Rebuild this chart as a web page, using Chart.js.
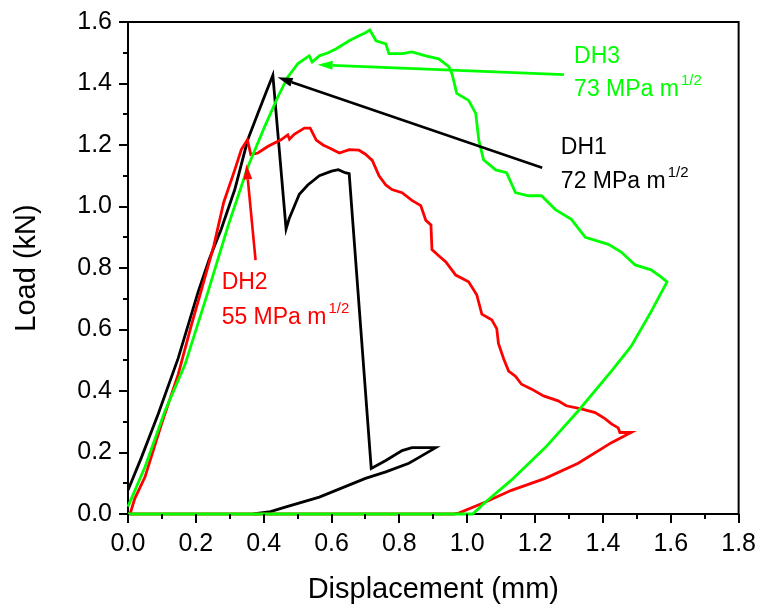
<!DOCTYPE html>
<html>
<head>
<meta charset="utf-8">
<script src="https://cdn.jsdelivr.net/npm/chart.js@4/dist/chart.umd.min.js"></script>
<style>
  html, body { margin: 0; padding: 0; background: #fff; }
  #wrap { width: 762px; height: 613px; }
</style>
</head>
<body>
<div id="wrap"><canvas id="cv" width="762" height="613"></canvas></div>
<script>
// displacement (mm), load (kN)
const DH1 = [[0,0.077],[0.04,0.185],[0.089,0.325],[0.148,0.507],[0.207,0.723],[0.24,0.83],[0.275,0.927],
  [0.315,1.056],[0.353,1.217],[0.383,1.303],[0.41,1.38],[0.427,1.427],
  [0.466,0.927],[0.475,0.96],[0.49,1.0],[0.505,1.04],[0.53,1.07],[0.564,1.10],[0.6,1.115],[0.62,1.12],
  [0.64,1.11],[0.652,1.107],[0.717,0.148],[0.76,0.174],[0.808,0.206],[0.837,0.216],[0.907,0.216],
  [0.858,0.184],[0.828,0.165],[0.76,0.137],[0.70,0.116],[0.564,0.055],[0.466,0.023],[0.42,0.008],[0.37,0]];

const DH2 = [[0,0],[0.006,0.0],[0.02,0.05],[0.05,0.12],[0.099,0.293],[0.148,0.454],[0.187,0.615],[0.215,0.723],
  [0.253,0.873],[0.282,1.013],[0.315,1.12],[0.334,1.185],[0.352,1.217],[0.362,1.169],[0.383,1.174],
  [0.413,1.196],[0.451,1.217],[0.471,1.233],[0.476,1.219],[0.49,1.235],[0.52,1.255],[0.537,1.255],
  [0.555,1.216],[0.575,1.20],[0.594,1.19],[0.623,1.174],[0.652,1.185],[0.681,1.183],[0.70,1.17],
  [0.72,1.15],[0.74,1.10],[0.76,1.07],[0.778,1.055],[0.808,1.045],[0.837,1.02],[0.863,1.003],
  [0.878,0.955],[0.893,0.94],[0.896,0.86],[0.916,0.84],[0.937,0.82],[0.966,0.777],[1.004,0.755],
  [1.028,0.713],[1.043,0.65],[1.072,0.632],[1.087,0.603],[1.092,0.555],[1.107,0.506],[1.122,0.465],
  [1.142,0.448],[1.16,0.422],[1.19,0.406],[1.225,0.384],[1.268,0.368],[1.292,0.352],[1.336,0.342],
  [1.377,0.33],[1.406,0.31],[1.425,0.293],[1.445,0.28],[1.45,0.265],[1.483,0.265],[1.425,0.232],
  [1.327,0.165],[1.23,0.116],[1.13,0.077],[1.054,0.039],[0.975,0.003],[0.96,0],[0,0]];

const DH3 = [[0,0.024],[0.05,0.153],[0.109,0.335],[0.168,0.486],[0.236,0.723],[0.295,0.937],[0.354,1.131],
  [0.403,1.26],[0.442,1.357],[0.471,1.421],[0.501,1.465],[0.534,1.49],[0.543,1.47],[0.564,1.49],
  [0.59,1.50],[0.614,1.513],[0.652,1.539],[0.681,1.555],[0.70,1.565],[0.713,1.574],[0.731,1.539],
  [0.76,1.529],[0.769,1.497],[0.808,1.497],[0.837,1.503],[0.878,1.49],[0.916,1.48],[0.946,1.455],
  [0.955,1.432],[0.969,1.368],[1.004,1.345],[1.025,1.303],[1.034,1.216],[1.048,1.152],[1.084,1.119],
  [1.116,1.11],[1.142,1.045],[1.18,1.035],[1.219,1.035],[1.26,0.99],[1.307,0.958],[1.348,0.90],
  [1.416,0.877],[1.454,0.852],[1.495,0.81],[1.542,0.794],[1.571,0.771],[1.589,0.755],[1.542,0.658],
  [1.483,0.545],[1.425,0.465],[1.327,0.335],[1.23,0.216],[1.13,0.11],[1.054,0.039],[1.016,0],[0,0]];

const X_RANGE = [0, 1.8];
const Y_RANGE = [0, 1.6];

// label text, toughness, colour, text anchor (x, baseline y line 1, line 2), arrow from -> to
const NOTES = [
  {name: 'DH3', k: '73 MPa m', color: '#00ff00', at: [1.315, 1.468, 1.358], from: [1.285, 1.429], to: [0.559, 1.461]},
  {name: 'DH1', k: '72 MPa m', color: '#000000', at: [1.276, 1.171, 1.061], from: [1.221, 1.126], to: [0.441, 1.42]},
  {name: 'DH2', k: '55 MPa m', color: '#ff0000', at: [0.276, 0.732, 0.619], from: [0.376, 0.826], to: [0.349, 1.137]},
];

const FONT = 'Liberation Sans, Arial, sans-serif';
const pts = a => a.map(p => ({x: p[0], y: p[1]}));
const isMajor = v => Math.round(v * 10) % 2 === 0;

const ticksAndFrame = {
  id: 'ticksAndFrame',
  afterDraw(chart) {
    const {ctx, chartArea: a, scales: {x, y}} = chart;
    ctx.save();
    ctx.strokeStyle = '#000'; ctx.lineWidth = 2;
    ctx.beginPath();
    x.ticks.forEach(t => {
      const px = Math.round(x.getPixelForValue(t.value));
      ctx.moveTo(px, a.bottom); ctx.lineTo(px, a.bottom + (isMajor(t.value) ? 9 : 5));
    });
    y.ticks.forEach(t => {
      const py = Math.round(y.getPixelForValue(t.value));
      ctx.moveTo(a.left, py); ctx.lineTo(a.left - (isMajor(t.value) ? 9 : 5), py);
    });
    ctx.moveTo(a.left, a.top); ctx.lineTo(a.right, a.top); ctx.lineTo(a.right, a.bottom);
    ctx.stroke();
    ctx.restore();
  }
};

const notes = {
  id: 'notes',
  afterDatasetsDraw(chart) {
    const {ctx, scales: {x, y}} = chart;
    ctx.save();
    NOTES.forEach(n => {
      ctx.fillStyle = n.color; ctx.strokeStyle = n.color; ctx.lineWidth = 2.6;
      const x0 = x.getPixelForValue(n.from[0]), y0 = y.getPixelForValue(n.from[1]);
      const x1 = x.getPixelForValue(n.to[0]), y1 = y.getPixelForValue(n.to[1]);
      const ang = Math.atan2(y1 - y0, x1 - x0), L = 15, W = 4.5;
      const bx = x1 - L * Math.cos(ang), by = y1 - L * Math.sin(ang);
      ctx.beginPath(); ctx.moveTo(x0, y0); ctx.lineTo(bx, by); ctx.stroke();
      ctx.beginPath();
      ctx.moveTo(x1, y1);
      ctx.lineTo(bx + W * Math.sin(ang), by - W * Math.cos(ang));
      ctx.lineTo(bx - W * Math.sin(ang), by + W * Math.cos(ang));
      ctx.closePath(); ctx.fill();

      const tx = x.getPixelForValue(n.at[0]);
      ctx.textAlign = 'left'; ctx.textBaseline = 'alphabetic';
      ctx.font = '23px ' + FONT;
      ctx.fillText(n.name, tx, y.getPixelForValue(n.at[1]));
      const by2 = y.getPixelForValue(n.at[2]);
      ctx.fillText(n.k, tx, by2);
      const w = ctx.measureText(n.k).width;
      ctx.font = '15px ' + FONT;
      ctx.fillText('1/2', tx + w + 2, by2 - 11);
    });
    ctx.restore();
  }
};

const line = (data, color) => ({
  data: pts(data), borderColor: color, backgroundColor: color, borderWidth: 2.8,
  showLine: true, pointRadius: 0, tension: 0, fill: false, clip: 4
});

new Chart(document.getElementById('cv'), {
  type: 'scatter',
  data: {datasets: [line(DH3, '#00ff00'), line(DH2, '#ff0000'), line(DH1, '#000000')]},
  options: {
    responsive: false, animation: false, devicePixelRatio: 1,
    layout: {padding: {top: 18, right: 22, left: 0, bottom: 0}},
    plugins: {legend: {display: false}, tooltip: {enabled: false}},
    scales: {
      x: {
        min: X_RANGE[0], max: X_RANGE[1],
        afterFit: s => { s.height = 99; },
        border: {display: true, color: '#000', width: 2},
        grid: {drawOnChartArea: false, tickLength: 9, tickColor: 'rgba(0,0,0,0)'},
        ticks: {stepSize: 0.1, autoSkip: false, maxRotation: 0, color: '#000', padding: 6,
          font: {family: FONT, size: 25},
          callback: v => isMajor(v) ? v.toFixed(1) : ''},
        title: {display: true, text: 'Displacement (mm)', color: '#000',
          font: {family: FONT, size: 29}, padding: {top: 0, bottom: 6}}
      },
      y: {
        min: Y_RANGE[0], max: Y_RANGE[1],
        afterFit: s => { s.width = 128; },
        border: {display: true, color: '#000', width: 2},
        grid: {drawOnChartArea: false, tickLength: 9, tickColor: 'rgba(0,0,0,0)'},
        ticks: {stepSize: 0.1, autoSkip: false, color: '#000', padding: 7,
          font: {family: FONT, size: 25},
          callback: v => isMajor(v) ? v.toFixed(1) : ''},
        title: {display: true, text: 'Load (kN)', color: '#000',
          font: {family: FONT, size: 29}, padding: {top: 10, bottom: 0}}
      }
    }
  },
  plugins: [notes, ticksAndFrame]
});
</script>
</body>
</html>
